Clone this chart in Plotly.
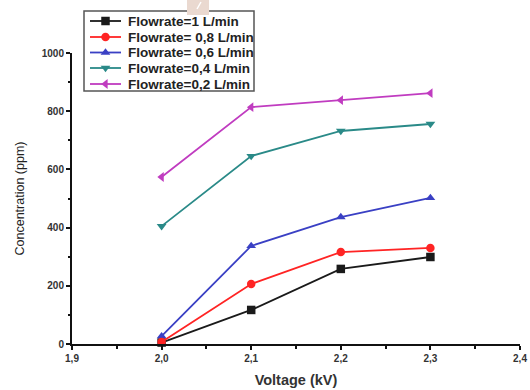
import plotly.graph_objects as go

voltage = [2.0, 2.1, 2.2, 2.3]
flow_1_0 = [5, 117, 258, 299]
flow_0_8 = [7, 206, 316, 330]
flow_0_6 = [27, 337, 436, 502]
flow_0_4 = [405, 646, 732, 756]
flow_0_2 = [574, 814, 838, 862]

series_names = ["Flowrate=1 L/min", "Flowrate= 0,8 L/min", "Flowrate= 0,6 L/min",
                "Flowrate=0,4 L/min", "Flowrate=0,2 L/min"]
series_values = [flow_1_0, flow_0_8, flow_0_6, flow_0_4, flow_0_2]
colors = ["#1a1a1a", "#ff2424", "#3a40c4", "#2a8a88", "#c03cc0"]
symbols = ["square", "circle", "triangle-up", "triangle-down", "triangle-left"]
draw_order = [0, 2, 1, 3, 4]

x_tickvals = [1.9, 2.0, 2.1, 2.2, 2.3, 2.4]
x_ticktext = ["1,9", "2,0", "2,1", "2,2", "2,3", "2,4"]
y_tickvals = [0, 200, 400, 600, 800, 1000]

font = "Liberation Sans, Arial, sans-serif"

# plot area in pixels (main axes occupy L..R, T..B; overlay legend area spans 0..B)
L, R, T, B = 72, 520, 53, 344
W, H = 530, 390

fig = go.Figure()
for i in draw_order:
    fig.add_trace(go.Scatter(
        x=voltage, y=series_values[i], name=series_names[i], mode="lines+markers",
        line=dict(color=colors[i], width=1.8),
        marker=dict(symbol=symbols[i], size=8.5, color=colors[i]),
        cliponaxis=False, showlegend=False,
    ))

# custom legend drawn on a hidden pixel-coordinate axis pair covering the whole top area
leg_y = [21, 37, 52.5, 68, 84]
for name, c, s, yc in zip(series_names, colors, symbols, leg_y):
    fig.add_trace(go.Scatter(
        x=[90, 121], y=[yc, yc], xaxis="x2", yaxis="y2", mode="lines",
        line=dict(color=c, width=1.8), showlegend=False, hoverinfo="skip",
    ))
    fig.add_trace(go.Scatter(
        x=[105.5], y=[yc], xaxis="x2", yaxis="y2", mode="markers",
        marker=dict(symbol=s, size=8.5, color=c), showlegend=False, hoverinfo="skip",
    ))
    fig.add_annotation(
        x=126, y=yc, xref="x2", yref="y2", text=name, showarrow=False,
        xanchor="left", yanchor="middle",
        font=dict(family=font, size=13.5, color="#222", weight="bold"),
    )

fig.add_shape(type="rect", xref="x2", yref="y2", x0=84, x1=254, y0=11, y1=91,
              line=dict(color="#555", width=1.5), fillcolor="white", layer="below")
fig.add_shape(type="rect", xref="x2", yref="y2", x0=187, x1=209, y0=0, y1=15,
              line=dict(width=0), fillcolor="#ead9d0", layer="below")
fig.add_shape(type="line", xref="x2", yref="y2", x0=197, x1=201, y0=9, y1=2,
              line=dict(color="white", width=1.5), layer="below")

fig.update_layout(
    width=W, height=H,
    margin=dict(l=L, r=W - R, t=0, b=H - B),
    plot_bgcolor="rgba(0,0,0,0)", paper_bgcolor="white",
    font=dict(family=font, color="#222"),
    showlegend=False,
    xaxis=dict(
        range=[1.9, 2.4], tickvals=x_tickvals, ticktext=x_ticktext, automargin=False,
        showline=True, linecolor="#111", linewidth=2, anchor="y",
        ticks="outside", ticklen=4, tickwidth=1.5, tickcolor="#111",
        minor=dict(dtick=0.05, ticks="outside", ticklen=2.5, tickcolor="#111", tickwidth=1.5, showgrid=False),
        showgrid=False, zeroline=False,
        tickfont=dict(family=font, size=10, color="#333", weight="bold"),
        title=dict(text="Voltage (kV)", font=dict(family=font, size=14.5, color="#333", weight="bold"), standoff=12),
    ),
    yaxis=dict(
        domain=[0, (B - T) / B], anchor="x",
        range=[0, 1000], tickvals=y_tickvals, automargin=False,
        showline=True, linecolor="#111", linewidth=2,
        ticks="outside", ticklen=4, tickwidth=1.5, tickcolor="#111",
        minor=dict(dtick=100, ticks="outside", ticklen=2.5, tickcolor="#111", tickwidth=1.5, showgrid=False),
        showgrid=False, zeroline=False,
        tickfont=dict(family=font, size=10, color="#333", weight="bold"),
        title=dict(text="Concentration (ppm)", font=dict(family=font, size=12.5, color="#222"), standoff=14),
    ),
    xaxis2=dict(domain=[0, 1], anchor="y2", range=[L, R], visible=False, fixedrange=True),
    yaxis2=dict(domain=[0, 1], anchor="x2", range=[B, 0], visible=False, fixedrange=True),
)

fig.write_html("out.html")
